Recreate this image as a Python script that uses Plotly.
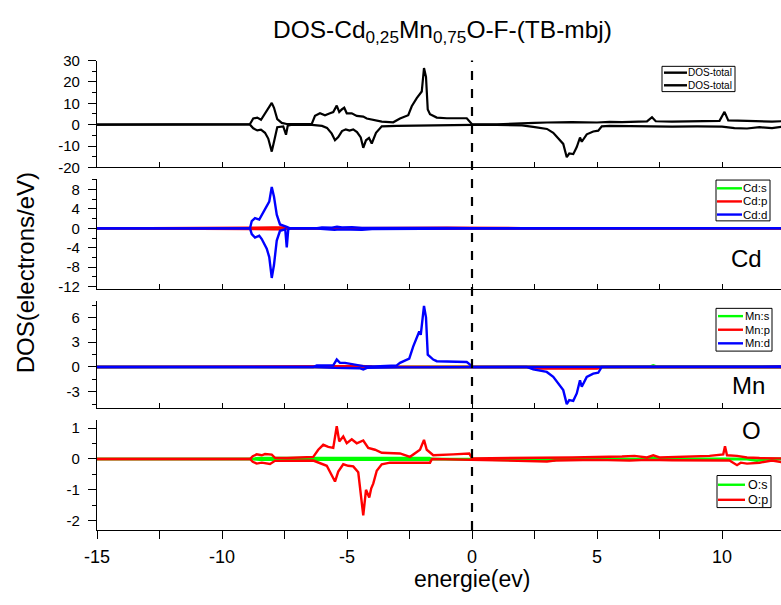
import plotly.graph_objects as go

# ---------------------------------------------------------------- data
# Energies in eV relative to the Fermi level, DOS in states/eV.
FERMI_LEVEL = 0.0
E_MIN, E_MAX = -15.0, 12.36
E_TICKS = [-15, -10, -5, 0, 5, 10]

TOTAL_UP = [(-15.0, 0.0), (-8.88, 0.3), (-8.75, 2.9), (-8.59, 3.3), (-8.44, 2.3), (-8.28, 5.3),
            (-8.15, 7.4), (-8.01, 10.2), (-7.92, 7.9), (-7.79, 2.6), (-7.61, 0.8), (-7.41, 0.3),
            (-6.41, 0.3), (-6.28, 4.1), (-6.08, 5.3), (-5.88, 4.4), (-5.68, 5.3), (-5.55, 5.9),
            (-5.41, 8.9), (-5.31, 5.9), (-5.21, 7.1), (-5.11, 7.9), (-5.01, 5.3), (-4.81, 5.3),
            (-4.61, 4.1), (-4.35, 3.8), (-4.21, 2.9), (-3.95, 2.3), (-3.61, 1.4), (-3.15, 1.1),
            (-2.88, 2.9), (-2.55, 4.4), (-2.41, 8.6), (-2.21, 12.4), (-2.08, 14.7), (-2.01, 15.5),
            (-1.92, 26.5), (-1.84, 22.3), (-1.77, 7.1), (-1.68, 4.9), (-1.41, 3.3), (-1.01, 3.0),
            (-0.21, 3.0), (-0.11, 1.8), (0.0, 0.2), (1.0, 0.2), (2.0, 0.4), (2.5, 0.8), (3.0, 1.0),
            (4.0, 1.2), (5.0, 1.0), (5.5, 1.3), (6.0, 1.2), (7.0, 1.5), (7.2, 3.5), (7.35, 1.6),
            (8.0, 1.4), (9.0, 1.6), (9.9, 1.8), (10.1, 6.0), (10.25, 2.0), (11.0, 1.8), (11.5, 1.5),
            (12.0, 1.4), (12.4, 1.6)]
TOTAL_DN = [(-15.0, 0.0), (-8.88, 0.0), (-8.75, -1.7), (-8.59, -2.7), (-8.44, -2.3), (-8.28, -3.8),
            (-8.15, -6.5), (-8.01, -12.6), (-7.92, -8.0), (-7.79, -1.2), (-7.55, -0.8), (-7.44, -4.7),
            (-7.37, -0.5), (-7.25, -0.1), (-6.4, -0.1), (-6.0, -0.6), (-5.8, -1.5), (-5.61, -4.2),
            (-5.48, -7.3), (-5.35, -5.8), (-5.2, -3.0), (-5.05, -2.2), (-4.9, -2.8), (-4.75, -2.2),
            (-4.6, -3.5), (-4.45, -6.0), (-4.35, -10.8), (-4.24, -7.3), (-4.12, -6.2), (-4.01, -8.8),
            (-3.84, -3.8), (-3.61, -0.8), (-3.0, -0.6), (-1.7, -0.3), (-1.0, -0.2), (0.0, -0.1),
            (1.0, -0.1), (2.0, -0.3), (2.45, -1.0), (3.0, -2.0), (3.25, -3.8), (3.52, -7.5),
            (3.65, -9.0), (3.79, -15.2), (3.89, -13.5), (4.05, -13.8), (4.19, -10.5), (4.32, -6.0),
            (4.39, -8.0), (4.59, -4.5), (4.85, -3.2), (5.05, -2.8), (5.19, -0.8), (5.5, -0.6),
            (6.0, -0.7), (7.0, -0.8), (8.0, -0.9), (9.0, -0.8), (10.0, -0.9), (10.5, -1.6),
            (11.0, -1.8), (11.5, -1.2), (12.0, -1.6), (12.4, -1.0)]

CD_S_UP = [(-15.0, 0.0), (-8.9, 0.0), (-8.0, 0.05), (-6.0, 0.08), (-5.0, 0.1), (-4.0, 0.05),
           (0.0, 0.02), (12.4, 0.02)]
CD_S_DN = [(-15.0, 0.0), (-8.9, 0.0), (-8.0, -0.05), (-6.0, -0.08), (-5.0, -0.1), (-4.0, -0.05),
           (0.0, -0.02), (12.4, -0.02)]
CD_P_UP = [(-15.0, 0.0), (-8.9, 0.0), (-8.8, 0.15), (-8.0, 0.2), (-7.5, 0.2), (-7.4, 0.0),
           (-5.5, 0.1), (-3.0, 0.1), (-1.0, 0.15), (0.0, 0.1), (2.0, 0.05), (12.4, 0.05)]
CD_P_DN = [(-15.0, 0.0), (-8.9, 0.0), (-8.8, -0.15), (-8.0, -0.2), (-7.5, -0.2), (-7.4, 0.0),
           (-5.5, -0.1), (-3.0, -0.1), (-1.0, -0.1), (0.0, -0.05), (12.4, -0.02)]
CD_D_UP = [(-15.0, 0.0), (-8.88, 0.0), (-8.81, 1.5), (-8.68, 2.1), (-8.51, 1.8), (-8.41, 2.8),
           (-8.21, 4.5), (-8.11, 5.5), (-8.01, 8.5), (-7.92, 6.5), (-7.81, 2.8), (-7.68, 0.8),
           (-7.41, 0.3), (-7.3, 0.05), (-6.2, 0.05), (-6.0, 0.2), (-5.6, 0.15), (-5.4, 0.35),
           (-5.2, 0.2), (-4.8, 0.25), (-4.4, 0.1), (-3.0, 0.15), (-1.9, 0.2), (-1.0, 0.1),
           (0.0, 0.05), (12.4, 0.05)]
CD_D_DN = [(-15.0, 0.0), (-8.88, 0.0), (-8.81, -1.2), (-8.68, -1.9), (-8.51, -1.5), (-8.41, -2.2),
           (-8.21, -4.2), (-8.11, -5.9), (-8.01, -10.2), (-7.92, -7.5), (-7.81, -2.5), (-7.68, -0.5),
           (-7.47, -0.2), (-7.41, -3.9), (-7.35, -0.2), (-7.25, 0.0), (-6.2, -0.05), (-5.5, -0.3),
           (-5.3, -0.2), (-4.4, -0.3), (-4.0, -0.15), (-3.0, -0.1), (0.0, -0.05), (12.4, 0.0)]

MN_S_UP = [(-15.0, 0.0), (-6.0, 0.02), (0.0, 0.02), (5.0, 0.05), (7.1, 0.05), (7.25, 0.2),
           (7.4, 0.05), (12.4, 0.05)]
MN_S_DN = [(-15.0, 0.0), (-6.0, -0.02), (0.0, -0.02), (5.0, -0.05), (8.0, -0.05), (9.5, -0.12),
           (10.5, -0.05), (12.4, -0.05)]
MN_P_UP = [(-15.0, 0.0), (-6.0, 0.02), (-5.5, 0.1), (-4.5, 0.12), (-4.0, 0.05), (0.0, 0.03),
           (7.0, 0.05), (10.0, 0.1), (12.4, 0.05)]
MN_P_DN = [(-15.0, 0.0), (-6.0, -0.02), (-4.5, -0.1), (0.0, -0.02), (2.2, -0.05), (2.5, -0.2),
           (5.0, -0.2), (5.2, -0.05), (12.4, -0.03)]
MN_D_UP = [(-15.0, 0.0), (-6.35, 0.0), (-6.21, 0.2), (-5.55, 0.2), (-5.41, 0.9), (-5.28, 0.5),
           (-5.08, 0.5), (-4.75, 0.3), (-4.35, 0.1), (-3.9, 0.05), (-3.01, 0.2), (-2.88, 0.5),
           (-2.61, 0.9), (-2.51, 1.0), (-2.35, 2.5), (-2.21, 3.7), (-2.11, 4.3), (-2.05, 3.9),
           (-1.92, 7.4), (-1.84, 6.0), (-1.77, 1.5), (-1.55, 0.9), (-1.41, 0.7), (-0.21, 0.6),
           (-0.08, 0.3), (0.0, 0.0), (12.4, 0.05)]
MN_D_DN = [(-15.0, 0.0), (-6.3, 0.0), (-5.5, -0.1), (-4.5, -0.15), (-4.35, -0.3), (-4.2, -0.1),
           (-3.0, -0.05), (0.0, 0.0), (2.19, 0.0), (2.45, -0.3), (2.99, -0.6), (3.25, -1.2),
           (3.52, -2.3), (3.65, -2.8), (3.79, -4.5), (3.89, -4.0), (4.05, -4.1), (4.19, -3.2),
           (4.32, -1.6), (4.39, -2.4), (4.59, -1.2), (4.85, -0.8), (5.05, -0.7), (5.19, 0.0),
           (12.4, 0.0)]

O_S_UP = [(-15.0, 0.0), (-8.9, 0.0), (-8.5, 0.03), (-5.5, 0.04), (-1.7, 0.03), (-1.6, 0.0),
          (6.8, 0.01), (7.2, 0.04), (7.5, 0.01), (12.4, 0.01)]
O_S_DN = [(-15.0, 0.0), (-8.9, 0.0), (-8.5, -0.03), (-5.5, -0.04), (-1.7, -0.03), (-1.6, 0.0),
          (2.0, -0.04), (3.3, -0.05), (3.4, 0.0), (11.0, -0.01), (11.4, -0.06), (11.8, -0.01),
          (12.4, -0.01)]
O_P_UP = [(-15.0, 0.0), (-8.88, 0.0), (-8.77, 0.09), (-8.61, 0.15), (-8.41, 0.12), (-8.28, 0.16),
          (-8.01, 0.14), (-7.88, 0.04), (-7.4, 0.03), (-6.35, 0.07), (-6.15, 0.3), (-5.95, 0.46),
          (-5.75, 0.39), (-5.55, 0.36), (-5.41, 1.06), (-5.31, 0.57), (-5.15, 0.73), (-5.01, 0.51),
          (-4.81, 0.64), (-4.61, 0.51), (-4.35, 0.6), (-4.15, 0.36), (-3.88, 0.3), (-3.61, 0.2),
          (-2.88, 0.18), (-2.48, 0.07), (-2.08, 0.3), (-1.92, 0.62), (-1.81, 0.3), (-1.55, 0.12),
          (-0.75, 0.15), (-0.11, 0.18), (0.0, 0.02), (2.0, 0.03), (4.0, 0.05), (6.0, 0.08),
          (6.5, 0.1), (7.0, 0.05), (7.25, 0.12), (7.5, 0.05), (8.5, 0.08), (9.5, 0.1),
          (10.05, 0.15), (10.12, 0.41), (10.2, 0.12), (10.6, 0.1), (11.0, 0.05), (11.5, 0.03),
          (12.4, 0.02)]
O_P_DN = [(-15.0, 0.0), (-8.88, 0.0), (-8.77, -0.09), (-8.61, -0.15), (-8.41, -0.12),
          (-8.08, -0.16), (-7.88, -0.06), (-6.35, -0.05), (-5.81, -0.22), (-5.61, -0.54),
          (-5.48, -0.73), (-5.35, -0.41), (-5.15, -0.17), (-4.95, -0.22), (-4.75, -0.24),
          (-4.55, -0.43), (-4.35, -1.83), (-4.24, -1.0), (-4.11, -1.25), (-4.03, -0.95),
          (-3.95, -0.8), (-3.81, -0.38), (-3.61, -0.17), (-3.28, -0.12), (-1.68, -0.12),
          (-1.6, 0.0), (0.0, -0.02), (2.0, -0.05), (3.0, -0.08), (3.3, -0.05), (5.0, -0.03),
          (6.3, -0.05), (7.0, -0.03), (8.0, -0.04), (9.0, -0.05), (10.3, -0.05), (10.6, -0.2),
          (10.75, -0.12), (11.0, -0.15), (11.5, -0.12), (12.0, -0.05), (12.4, -0.1)]

# ------------------------------------------------------------- layout
W, H = 781, 605
ML = 97
FONT = "Liberation Sans, Arial, sans-serif"
GREEN, RED, BLUE, BLACK = "#00ff00", "#ff0000", "#0000ff", "#000000"


def px_x(px):
    return (px - ML) / (W - ML)


def px_y(py):
    return 1 - py / H


def labels(vals):
    # plain hyphen-minus, as in the original figure
    return ["%g" % v for v in vals]


# panel boxes in pixels (top, bottom) and their DOS ranges
PANELS = [
    dict(top=53, bottom=163, yrange=[-20, 30], ticks=[-20, -10, 0, 10, 20, 30], minor=5),
    dict(top=175, bottom=288, yrange=[-12.46, 10.14], ticks=[-12, -8, -4, 0, 4, 8], minor=2),
    dict(top=300, bottom=411, yrange=[-5.02, 8.04], ticks=[-3, 0, 3, 6], minor=1.5),
    dict(top=423, bottom=536, yrange=[-2.3, 1.26], ticks=[-2, -1, 0, 1], minor=0.5),
]

fig = go.Figure()

series = [
    (1, [(TOTAL_UP, BLACK), (TOTAL_DN, BLACK)]),
    (2, [(CD_S_UP, GREEN), (CD_S_DN, GREEN), (CD_P_UP, RED), (CD_P_DN, RED),
         (CD_D_UP, BLUE), (CD_D_DN, BLUE)]),
    (3, [(MN_S_UP, GREEN), (MN_S_DN, GREEN), (MN_P_UP, RED), (MN_P_DN, RED),
         (MN_D_UP, BLUE), (MN_D_DN, BLUE)]),
    (4, [(O_S_UP, GREEN), (O_S_DN, GREEN), (O_P_UP, RED), (O_P_DN, RED)]),
]
for idx, curves in series:
    for pts, col in curves:
        xs = [p[0] for p in pts]
        ys = [p[1] for p in pts]
        fig.add_trace(go.Scatter(
            x=xs, y=ys, mode="lines", line=dict(color=col, width=2.4 if col != BLACK else 2.2),
            xaxis="x" if idx == 1 else f"x{idx}", yaxis="y" if idx == 1 else f"y{idx}",
            showlegend=False, hoverinfo="skip"))

axis_common = dict(showgrid=False, zeroline=False, linecolor=BLACK, linewidth=1.3,
                   tickcolor=BLACK, tickwidth=1.3)
layout = dict(width=W, height=H, margin=dict(l=ML, r=0, t=0, b=0),
              plot_bgcolor="white", paper_bgcolor="white",
              font=dict(family=FONT, color=BLACK), showlegend=False)

for i, p in enumerate(PANELS, start=1):
    sfx = "" if i == 1 else str(i)
    dom = [px_y(p["bottom"]), px_y(p["top"])]
    last = i == len(PANELS)
    layout[f"xaxis{sfx}"] = dict(
        axis_common, domain=[0, 1], range=[E_MIN, E_MAX], anchor=f"y{sfx}",
        showline=True, tickmode="array", tickvals=E_TICKS, ticktext=labels(E_TICKS),
        ticks="outside" if last else "inside", ticklen=8 if last else 5,
        minor=dict(dtick=2.5, tick0=-15, ticklen=8 if last else 5,
                   ticks="outside" if last else "inside", tickcolor=BLACK, tickwidth=1.3),
        showticklabels=last, tickfont=dict(size=18), ticklabelstandoff=2,
        matches=None if i == 1 else "x")
    layout[f"yaxis{sfx}"] = dict(
        axis_common, domain=dom, range=p["yrange"], anchor=f"x{sfx}",
        showline=True, tickmode="array", tickvals=p["ticks"], ticktext=labels(p["ticks"]),
        ticks="outside", ticklen=8,
        minor=dict(dtick=p["minor"], ticklen=4, ticks="outside", tickcolor=BLACK, tickwidth=1.3),
        tickfont=dict(size=15), ticklabelstandoff=5)

# top frame of the upper panel, with its own tick spacing
layout["xaxis5"] = dict(axis_common, overlaying="x", side="top", anchor="y",
                        range=[E_MIN, 9.64], tick0=-15, dtick=2.5, ticks="inside", ticklen=6,
                        showline=True, showticklabels=False)
# downward ticks hanging from the panel boundaries
for i, n in zip((2, 3, 4), (6, 7, 8)):
    layout[f"xaxis{n}"] = dict(axis_common, overlaying=f"x{i}", side="top", anchor=f"y{i}",
                               range=[E_MIN, E_MAX], tick0=-15, dtick=2.5, ticks="outside",
                               ticklen=10, showline=False, showticklabels=False)
# right-hand ticks
for i, n in zip((1, 2, 3, 4), (9, 10, 11, 12)):
    sfx = "" if i == 1 else str(i)
    p = PANELS[i - 1]
    layout[f"yaxis{n}"] = dict(axis_common, overlaying=f"y{sfx}", side="right", anchor=f"x{sfx}",
                               range=p["yrange"], tickvals=p["ticks"], ticks="inside", ticklen=6,
                               showline=False, showticklabels=False)

shapes = [dict(type="line", xref="x", yref="paper", x0=FERMI_LEVEL, x1=FERMI_LEVEL,
               y0=px_y(PANELS[-1]["bottom"]), y1=px_y(PANELS[0]["top"]),
               line=dict(color=BLACK, width=2.2, dash="dash"))]
annotations = []


def legend(box, line_x, text_x, rows, size):
    x0, y0, x1, y1 = box
    shapes.append(dict(type="rect", xref="paper", yref="paper", x0=px_x(x0), x1=px_x(x1),
                       y0=px_y(y1), y1=px_y(y0), line=dict(color=BLACK, width=1),
                       fillcolor="white", layer="above"))
    for (name, col), yy in rows:
        shapes.append(dict(type="line", xref="paper", yref="paper", x0=px_x(line_x[0]),
                           x1=px_x(line_x[1]), y0=px_y(yy), y1=px_y(yy),
                           line=dict(color=col, width=2.4), layer="above"))
        annotations.append(dict(xref="paper", yref="paper", x=px_x(text_x), y=px_y(yy),
                                xanchor="left", yanchor="middle", text=name, showarrow=False,
                                font=dict(size=size, color=BLACK)))


legend((662, 59, 735, 85), (664, 687), 686,
       [(("DOS-total", BLACK), 65.5), (("DOS-total", BLACK), 78.5)], 10)
legend((716, 176, 770, 218), (717, 742), 741,
       [(("Cd:s", GREEN), 184.5), (("Cd:p", RED), 198), (("Cd:d", BLUE), 211.5)], 11.5)
legend((716, 308, 772, 352), (718, 743), 743,
       [(("Mn:s", GREEN), 316), (("Mn:p", RED), 330), (("Mn:d", BLUE), 344)], 11.2)
legend((717, 480, 771, 513), (718, 745), 746,
       [(("O:s", GREEN), 489.5), (("O:p", RED), 505)], 12.5)

for txt, cx, cy in (("Cd", 746, 257), ("Mn", 748, 387), ("O", 751, 434)):
    annotations.append(dict(xref="paper", yref="paper", x=px_x(cx), y=px_y(cy), text=txt,
                            showarrow=False, xanchor="center", yanchor="middle",
                            font=dict(size=24)))

annotations.append(dict(xref="paper", yref="paper", x=px_x(442), y=px_y(23),
                        text="DOS-Cd<sub>0,25</sub>Mn<sub>0,75</sub>O-F-(TB-mbj)",
                        showarrow=False, xanchor="center", yanchor="middle", font=dict(size=24.5)))
annotations.append(dict(xref="paper", yref="paper", x=px_x(472), y=px_y(586),
                        text="energie(ev)", showarrow=False, xanchor="center",
                        yanchor="middle", font=dict(size=23)))
annotations.append(dict(xref="paper", yref="paper", x=px_x(25), y=px_y(272),
                        text="DOS(electrons/eV)", showarrow=False, textangle=-90,
                        xanchor="center", yanchor="middle", font=dict(size=24)))

layout["shapes"] = shapes
layout["annotations"] = annotations
fig.update_layout(**layout)
fig.write_html("out.html")
